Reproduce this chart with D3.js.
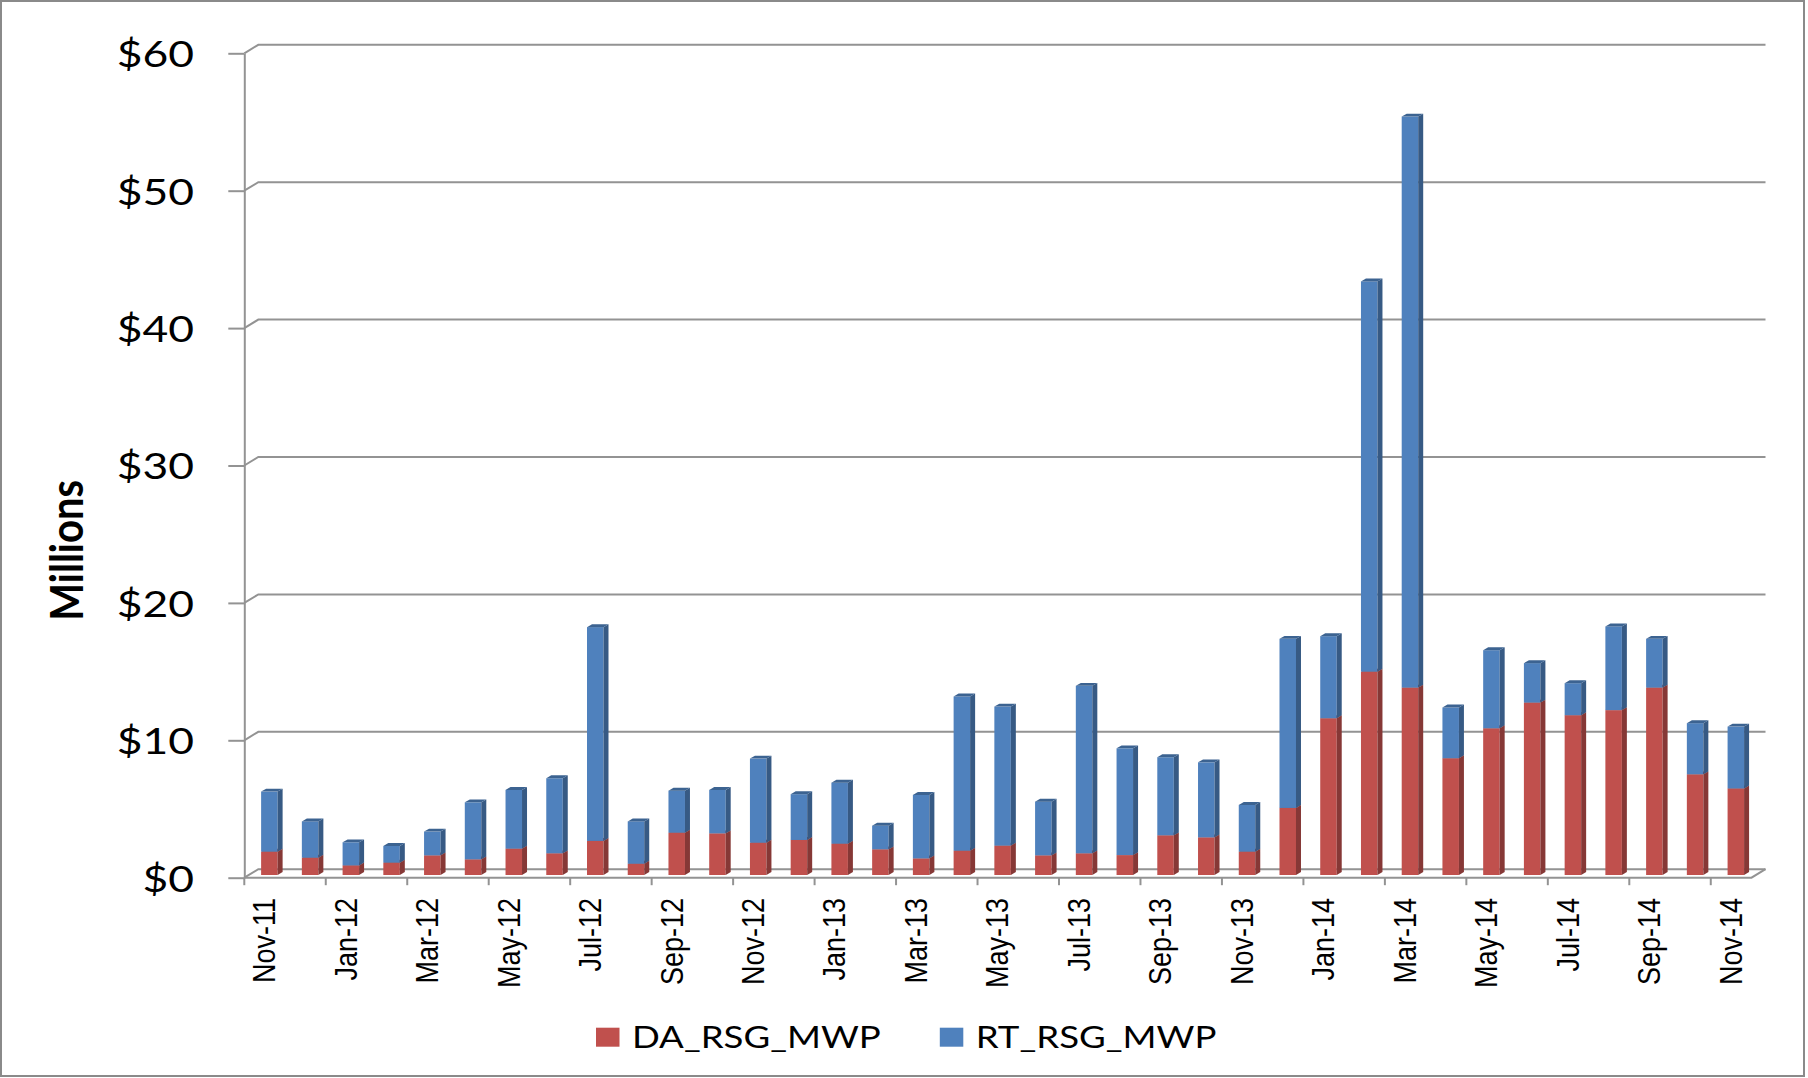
<!DOCTYPE html>
<html lang="en">
<head>
    <meta charset="UTF-8">
    <title>RSG MWP</title>
    <style>
        body { margin: 0; background: #fff; }
    </style>
</head>
<body>
<div id="chart" style="width: 1808px;height: 1078px;"></div>

<script src="https://cdn.jsdelivr.net/npm/d3@7/dist/d3.min.js"></script>
<script>
    // month labels, Nov-11 .. Nov-14
    var months = ["Nov-11","Dec-11","Jan-12","Feb-12","Mar-12","Apr-12","May-12","Jun-12","Jul-12","Aug-12",
        "Sep-12","Oct-12","Nov-12","Dec-12","Jan-13","Feb-13","Mar-13","Apr-13","May-13","Jun-13",
        "Jul-13","Aug-13","Sep-13","Oct-13","Nov-13","Dec-13","Jan-14","Feb-14","Mar-14","Apr-14",
        "May-14","Jun-14","Jul-14","Aug-14","Sep-14","Oct-14","Nov-14"];

    // $ millions
    var daRsg = [1.7, 1.26, 0.7, 0.9, 1.43, 1.14, 1.92, 1.58, 2.48, 0.82,
        3.08, 3.03, 2.35, 2.55, 2.28, 1.87, 1.21, 1.77, 2.14, 1.43,
        1.58, 1.45, 2.89, 2.74, 1.7, 4.88, 11.41, 14.8, 13.64, 8.5,
        10.68, 12.55, 11.63, 12.0, 13.64, 7.33, 6.3];
    var rtRsg = [4.37, 2.64, 1.68, 1.21, 1.73, 4.15, 4.27, 5.46, 15.56, 3.08,
        3.06, 3.16, 6.12, 3.33, 4.44, 1.72, 4.62, 11.22, 10.12, 3.91,
        12.19, 7.77, 5.68, 5.46, 3.4, 12.31, 5.97, 28.4, 41.56, 3.69,
        5.68, 2.87, 2.33, 6.09, 3.55, 3.72, 4.5];

    var seriesNames = ["DA_RSG_MWP", "RT_RSG_MWP"];
    var seriesColors = ["#C0504D", "#4F81BD"];
    var yTicks = [0, 10, 20, 30, 40, 50, 60];

    var width = 1808, height = 1078;
    var x0 = 244.3, x1 = 1751.5;
    var depthX = 14, depthY = -8.5;      // front -> back wall
    var barShiftX = 4.7, barShiftY = -2.7; // bars sit a third into the floor
    var barDX = 5, barDY = -2.9;          // bar's own depth
    var gridColor = "#939393";

    var svg = d3.select("#chart").append("svg")
        .attr("width", width)
        .attr("height", height);

    svg.append("rect")
        .attr("x", 1).attr("y", 1)
        .attr("width", 1803).attr("height", 1075)
        .attr("fill", "#fff")
        .attr("stroke", "#8a8a8a")
        .attr("stroke-width", 2);

    var y = d3.scaleLinear().domain([0, 60]).range([877.7, 53.3]);
    var x = d3.scaleBand().domain(months).range([x0, x1])
        .paddingInner(0.595).paddingOuter(0.2975);
    var xEdge = d3.scaleLinear().domain([0, months.length]).range([x0, x1]);

    // back wall gridlines with the little 3d elbow
    var gGrid = svg.append("g");
    gGrid.selectAll(".grid")
        .data(yTicks)
        .enter()
        .append("path")
        .attr("class", "grid")
        .attr("fill", "none")
        .attr("stroke", gridColor)
        .attr("stroke-width", 2)
        .attr("d", function(d){
            var yy = y(d);
            return "M" + x0 + "," + yy + "L" + (x0 + depthX) + "," + (yy + depthY) + "L" + (x1 + depthX) + "," + (yy + depthY);
        });

    // floor
    gGrid.append("path")
        .attr("fill", "none")
        .attr("stroke", gridColor)
        .attr("stroke-width", 2)
        .attr("d", "M" + x0 + "," + y(0) + "L" + x1 + "," + y(0) + "L" + (x1 + depthX) + "," + (y(0) + depthY));

    // y axis
    var yAxis = d3.axisLeft(y).tickValues(yTicks).tickSize(16).tickSizeOuter(0)
        .tickFormat(function(d){ return "$" + d; });
    var gY = svg.append("g")
        .attr("transform", "translate(" + x0 + ",0)")
        .call(yAxis);
    gY.select(".domain").attr("stroke", gridColor).attr("stroke-width", 2);
    gY.selectAll(".tick line").attr("stroke", gridColor).attr("stroke-width", 2);
    gY.selectAll(".tick text")
        .attr("x", null).attr("dy", null)
        .attr("transform", "translate(-50.3,13.4) scale(1.2,1)")
        .attr("text-anchor", "end")
        .style("font-family", "Lato, 'Open Sans', sans-serif")
        .style("font-size", "37px")
        .attr("fill", "#000");

    // x ticks on band edges, every second month
    var edgeIdx = d3.range(0, months.length, 2);
    svg.append("g").selectAll(".xtick")
        .data(edgeIdx)
        .enter()
        .append("line")
        .attr("x1", function(d){ return xEdge(d); })
        .attr("x2", function(d){ return xEdge(d); })
        .attr("y1", y(0))
        .attr("y2", y(0) + 7.5)
        .attr("stroke", gridColor)
        .attr("stroke-width", 2);

    svg.append("g").selectAll(".xlabel")
        .data(months.filter(function(d, i){ return i % 2 == 0; }))
        .enter()
        .append("text")
        .attr("transform", function(d){
            var cx = x(d) + x.bandwidth() / 2;
            return "translate(" + (cx + 10.5) + ",898) scale(1.18,1) rotate(-90)";
        })
        .attr("text-anchor", "end")
        .style("font-family", "'Liberation Sans', Arial, sans-serif")
        .style("font-size", "27px")
        .text(function(d){ return d; });

    // stacked 3d columns
    var table = months.map(function(m, i){
        return {month: m, DA_RSG_MWP: daRsg[i], RT_RSG_MWP: rtRsg[i]};
    });
    var stack = d3.stack().keys(seriesNames);
    var layers = stack(table);
    var bw = x.bandwidth();

    var gBars = svg.append("g");
    layers.forEach(function(layer, li){
        var base = d3.color(seriesColors[li]);
        var side = base.darker(1).formatHex();
        var top = base.darker(0.75).formatHex();
        var g = gBars.append("g").attr("class", "layer");
        var cols = g.selectAll(".col")
            .data(layer)
            .enter()
            .append("g")
            .attr("class", "col");

        cols.append("rect")
            .attr("x", function(d){ return x(d.data.month) + barShiftX; })
            .attr("y", function(d){ return y(d[1]) + barShiftY; })
            .attr("width", bw)
            .attr("height", function(d){ return y(d[0]) - y(d[1]); })
            .attr("fill", seriesColors[li]);

        cols.append("path")
            .attr("fill", side)
            .attr("d", function(d){
                var xr = x(d.data.month) + barShiftX + bw;
                var yt = y(d[1]) + barShiftY, yb = y(d[0]) + barShiftY;
                return "M" + xr + "," + yt + "L" + (xr + barDX) + "," + (yt + barDY) +
                    "L" + (xr + barDX) + "," + (yb + barDY) + "L" + xr + "," + yb + "Z";
            });

        cols.append("path")
            .attr("fill", top)
            .attr("d", function(d){
                var xl = x(d.data.month) + barShiftX;
                var yt = y(d[1]) + barShiftY;
                return "M" + xl + "," + yt + "L" + (xl + barDX) + "," + (yt + barDY) +
                    "L" + (xl + bw + barDX) + "," + (yt + barDY) + "L" + (xl + bw) + "," + yt + "Z";
            });
    });

    // y title
    svg.append("text")
        .attr("transform", "translate(82.7,550.3) scale(1.15,1) rotate(-90)")
        .attr("text-anchor", "middle")
        .style("font-family", "Lato, 'Open Sans', sans-serif")
        .style("font-weight", "bold")
        .style("font-size", "40px")
        .text("Millions");

    // legend
    var legendX = [596, 939.8];
    var gLegend = svg.append("g");
    seriesNames.forEach(function(name, i){
        gLegend.append("rect")
            .attr("x", legendX[i]).attr("y", 1027.7)
            .attr("width", 23.5).attr("height", 19)
            .attr("fill", seriesColors[i]);
        gLegend.append("text")
            .attr("transform", "translate(" + (legendX[i] + 36) + ",1048.3) scale(1.22,1)")
            .style("font-family", "Lato, 'Open Sans', sans-serif")
            .style("font-size", "30px")
            .text(name);
    });
</script>
</body>
</html>
